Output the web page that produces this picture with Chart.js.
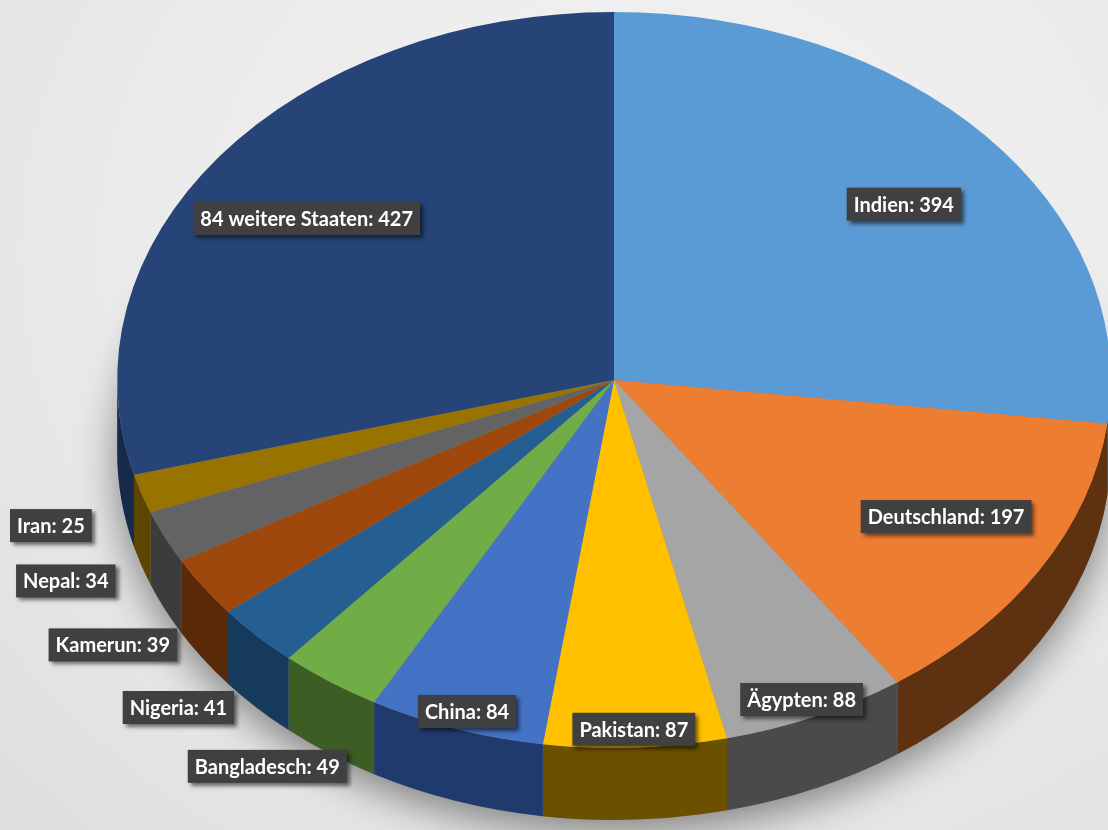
<!DOCTYPE html>
<html>
<head>
<meta charset="utf-8">
<script src="https://cdn.jsdelivr.net/npm/chart.js@4.4.1/dist/chart.umd.min.js"></script>
<style>
  html, body { margin: 0; padding: 0; }
  body { width: 1108px; height: 830px; overflow: hidden;
         background: radial-gradient(ellipse at 60% 30%, #f3f3f3 0%, #ebebeb 55%, #dedede 100%); }
  #wrap { position: relative; width: 1108px; height: 830px; }
</style>
</head>
<body>
<div id="wrap"><canvas id="pieChart" width="1108" height="830"></canvas></div>
<script>
// data
const countries = ['Indien', 'Deutschland', 'Ägypten', 'Pakistan', 'China', 'Bangladesch',
                   'Nigeria', 'Kamerun', 'Nepal', 'Iran', '84 weitere Staaten'];
const counts = [394, 197, 88, 87, 84, 49, 41, 39, 34, 25, 427];

const topColors = ['#5B9BD5', '#ED7D31', '#A5A5A5', '#FFC000', '#4472C4', '#70AD47',
                   '#255E91', '#9E480E', '#636363', '#997300', '#264478'];
const sideColors = ['#2f5f8a', '#5e3210', '#4a4a4a', '#6b5000', '#213a6e', '#3c5e24',
                    '#163a5c', '#5a2907', '#3c3c3c', '#5c4500', '#172a4c'];

const ASPECT = 1.35;   // horizontal stretch of the pie (tilted look)
const DEPTH = 72;      // thickness of the pie edge in px

function tilt(ctx, arc) {
  ctx.translate(arc.x, arc.y);
  ctx.scale(ASPECT, 1);
  ctx.translate(-arc.x, -arc.y);
}

const pie3d = {
  id: 'pie3d',
  beforeDatasetsDraw(chart) {
    const ctx = chart.ctx;
    const arcs = chart.getDatasetMeta(0).data;
    const a0 = arcs[0];
    ctx.save();
    tilt(ctx, a0);
    // soft shadow below the pie
    ctx.save();
    ctx.shadowColor = 'rgba(0,0,0,0.45)';
    ctx.shadowBlur = 40;
    ctx.shadowOffsetY = 12;
    ctx.fillStyle = '#888';
    ctx.beginPath();
    ctx.arc(a0.x, a0.y + DEPTH, a0.outerRadius, 0, Math.PI * 2);
    ctx.fill();
    ctx.restore();
    // front edge of each slice
    arcs.forEach((arc, i) => {
      const s = Math.max(arc.startAngle, 0);
      const e = Math.min(arc.endAngle, Math.PI);
      if (e <= s) return;
      ctx.fillStyle = sideColors[i];
      ctx.beginPath();
      ctx.arc(arc.x, arc.y, arc.outerRadius, s, e);
      ctx.arc(arc.x, arc.y + DEPTH, arc.outerRadius, e, s, true);
      ctx.closePath();
      ctx.fill();
    });
    ctx.restore();
    // squash the top face the same way
    ctx.save();
    tilt(ctx, a0);
  },
  afterDatasetsDraw(chart) {
    const ctx = chart.ctx;
    ctx.restore();
    const arcs = chart.getDatasetMeta(0).data;
    const total = counts.reduce((a, b) => a + b, 0);
    ctx.save();
    ctx.font = 'bold 20px Lato, "Open Sans", sans-serif';
    ctx.textBaseline = 'middle';
    ctx.textAlign = 'center';
    arcs.forEach((arc, i) => {
      const share = counts[i] / total;
      const mid = (arc.startAngle + arc.endAngle) / 2;
      let fx, fy;
      if (share > 0.1) { fx = 0.78; fy = 0.72; }
      else if (share > 0.05) { fx = 0.93; fy = 0.95; }
      else { fx = 1.22; fy = 1.28; }
      const r = arc.outerRadius;
      const text = countries[i] + ': ' + counts[i];
      const w = ctx.measureText(text).width + 14;
      const h = 33;
      let x = arc.x + Math.cos(mid) * r * ASPECT * fx;
      let y = arc.y + Math.sin(mid) * r * fy;
      x = Math.max(x, w / 2 + 10);
      ctx.save();
      ctx.shadowColor = 'rgba(0,0,0,0.55)';
      ctx.shadowBlur = 4;
      ctx.shadowOffsetX = 3;
      ctx.shadowOffsetY = 3;
      ctx.fillStyle = '#404040';
      ctx.fillRect(x - w / 2, y - h / 2, w, h);
      ctx.restore();
      ctx.fillStyle = '#ffffff';
      ctx.fillText(text, x, y + 1);
    });
    ctx.restore();
  }
};

new Chart(document.getElementById('pieChart'), {
  type: 'pie',
  data: {
    labels: countries,
    datasets: [{
      data: counts,
      backgroundColor: topColors,
      borderWidth: 0,
      clip: false
    }]
  },
  options: {
    responsive: false,
    animation: false,
    events: [],
    rotation: 0,
    layout: { padding: { left: 120, right: 0, top: 12, bottom: 82 } },
    plugins: {
      legend: { display: false },
      tooltip: { enabled: false }
    }
  },
  plugins: [pie3d]
});
</script>
</body>
</html>
